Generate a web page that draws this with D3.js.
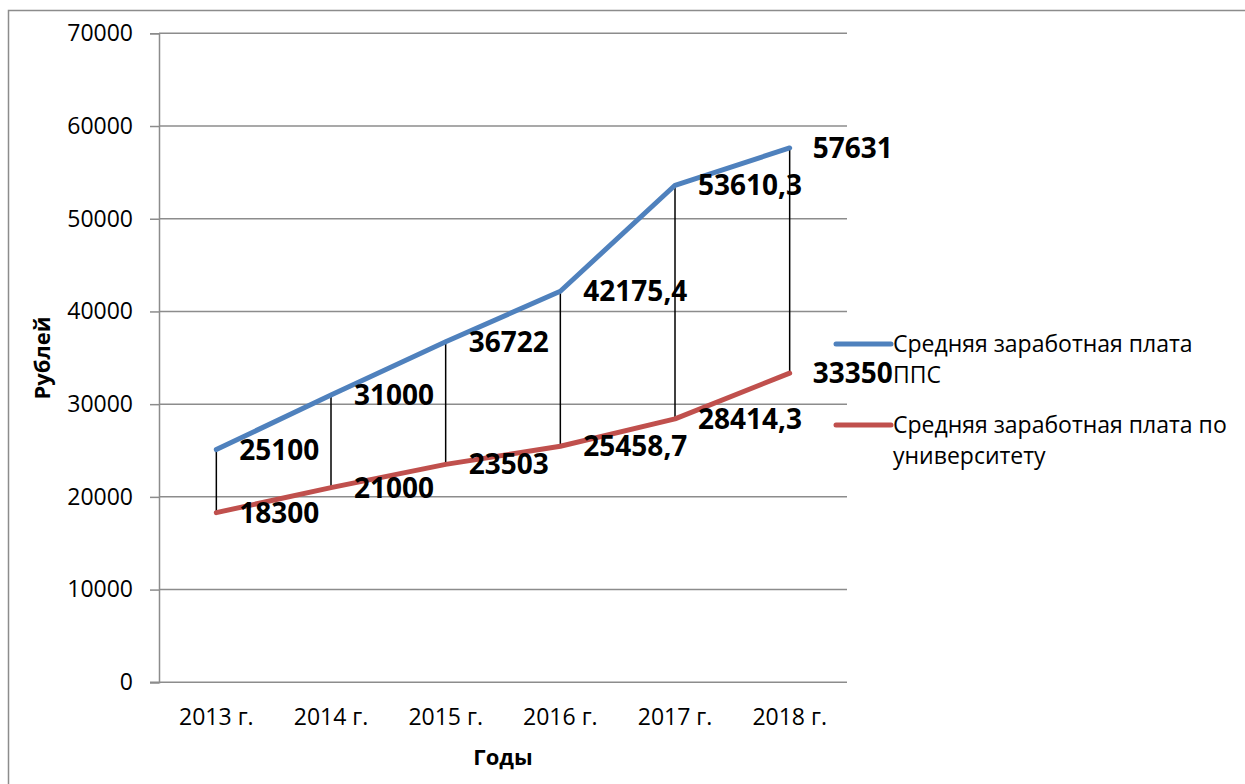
<!DOCTYPE html>
<html><head><meta charset="utf-8">
<script src="https://cdn.jsdelivr.net/npm/d3@7"></script>
<style>body{margin:0;background:#fff}svg{display:block}text{font-family:"Open Sans",sans-serif}</style>
</head><body>
<svg id="c" width="1245" height="784"></svg>
<script>
const categories = ["2013 г.","2014 г.","2015 г.","2016 г.","2017 г.","2018 г."];
const ppsValues = [25100, 31000, 36722, 42175.4, 53610.3, 57631];
const uniValues = [18300, 21000, 23503, 25458.7, 28414.3, 33350];
const yTicks = [0,10000,20000,30000,40000,50000,60000,70000];
const seriesNames = ["Средняя заработная плата ППС","Средняя заработная плата по университету"];
const colors = ["#4f81bd","#c0504d"];

const svg = d3.select("#c");
const L=159, R=847, T=33.3, B=682.3;
svg.append("rect").attr("x",8.5).attr("y",10.5).attr("width",1300).attr("height",900)
  .attr("fill","none").attr("stroke","#8c8c8c").attr("stroke-width",1.5);

const x = d3.scaleBand().domain(categories).range([L,R]);
const y = d3.scaleLinear().domain([0,70000]).range([B,T]);
const cx = c => x(c)+x.bandwidth()/2;

// gridlines
svg.append("g").selectAll("line").data(yTicks.filter(d=>d>0)).join("line")
  .attr("x1",L).attr("x2",R).attr("y1",d=>y(d)).attr("y2",d=>y(d))
  .attr("stroke","#8c8c8c").attr("stroke-width",1.5);

// y axis
const ya = svg.append("g").attr("transform",`translate(${L},0)`)
  .call(d3.axisLeft(y).tickValues(yTicks).tickSize(9).tickPadding(17).tickFormat(d3.format("d")));
ya.select(".domain").attr("stroke","#8c8c8c").attr("stroke-width",1.5);
ya.selectAll(".tick line").attr("stroke","#8c8c8c").attr("stroke-width",1.5);
ya.selectAll(".tick text").attr("font-size",23).attr("fill","#000").attr("font-family","Open Sans");

// x axis
const xa = svg.append("g").attr("transform",`translate(0,${B})`)
  .call(d3.axisBottom(x).tickSize(0).tickPadding(26));
xa.select(".domain").attr("stroke","#8c8c8c").attr("stroke-width",1.5).attr("d",`M${L-9},0H${R}`);
xa.selectAll(".tick text").attr("font-size",23).attr("fill","#000").attr("font-family","Open Sans");

// titles
svg.append("text").attr("x",503).attr("y",765).attr("text-anchor","middle")
  .attr("font-size",22).attr("font-weight","bold").text("Годы");
svg.append("text").attr("transform","translate(50,358) rotate(-90)").attr("text-anchor","middle")
  .attr("font-size",22).attr("font-weight","bold").text("Рублей");

// high-low lines
svg.append("g").selectAll("line").data(categories).join("line")
  .attr("x1",d=>cx(d)).attr("x2",d=>cx(d))
  .attr("y1",(d,i)=>y(ppsValues[i])).attr("y2",(d,i)=>y(uniValues[i]))
  .attr("stroke","#000").attr("stroke-width",1.5);

const line = d3.line().x((d,i)=>cx(categories[i])).y(d=>y(d));
[ppsValues, uniValues].forEach((vals,k)=>{
  svg.append("path").datum(vals).attr("d",line).attr("fill","none")
    .attr("stroke",colors[k]).attr("stroke-width",5).attr("stroke-linejoin","round").attr("stroke-linecap","round");
});
const fmt = v => String(v).replace(".",",");
[ppsValues, uniValues].forEach((vals,k)=>{
  svg.append("g").selectAll("text").data(vals).join("text")
    .attr("x",(d,i)=>cx(categories[i])+23).attr("y",d=>y(d)).attr("dy","0.36em")
    .attr("font-size",28).attr("font-weight","bold").attr("fill","#000").text(fmt);
});

// legend
const leg = [{y:344, lines:["Средняя заработная плата","ППС"]},{y:425, lines:["Средняя заработная плата по","университету"]}];
leg.forEach((l,k)=>{
  svg.append("line").attr("x1",836).attr("x2",891).attr("y1",l.y).attr("y2",l.y)
    .attr("stroke",colors[k]).attr("stroke-width",5).attr("stroke-linecap","round");
  const t = svg.append("text").attr("x",893).attr("y",l.y).attr("font-size",23).attr("fill","#000");
  l.lines.forEach((s,j)=>t.append("tspan").attr("x",893).attr("dy",j===0?"0.36em":"31").text(s));
});
</script>
</body></html>
